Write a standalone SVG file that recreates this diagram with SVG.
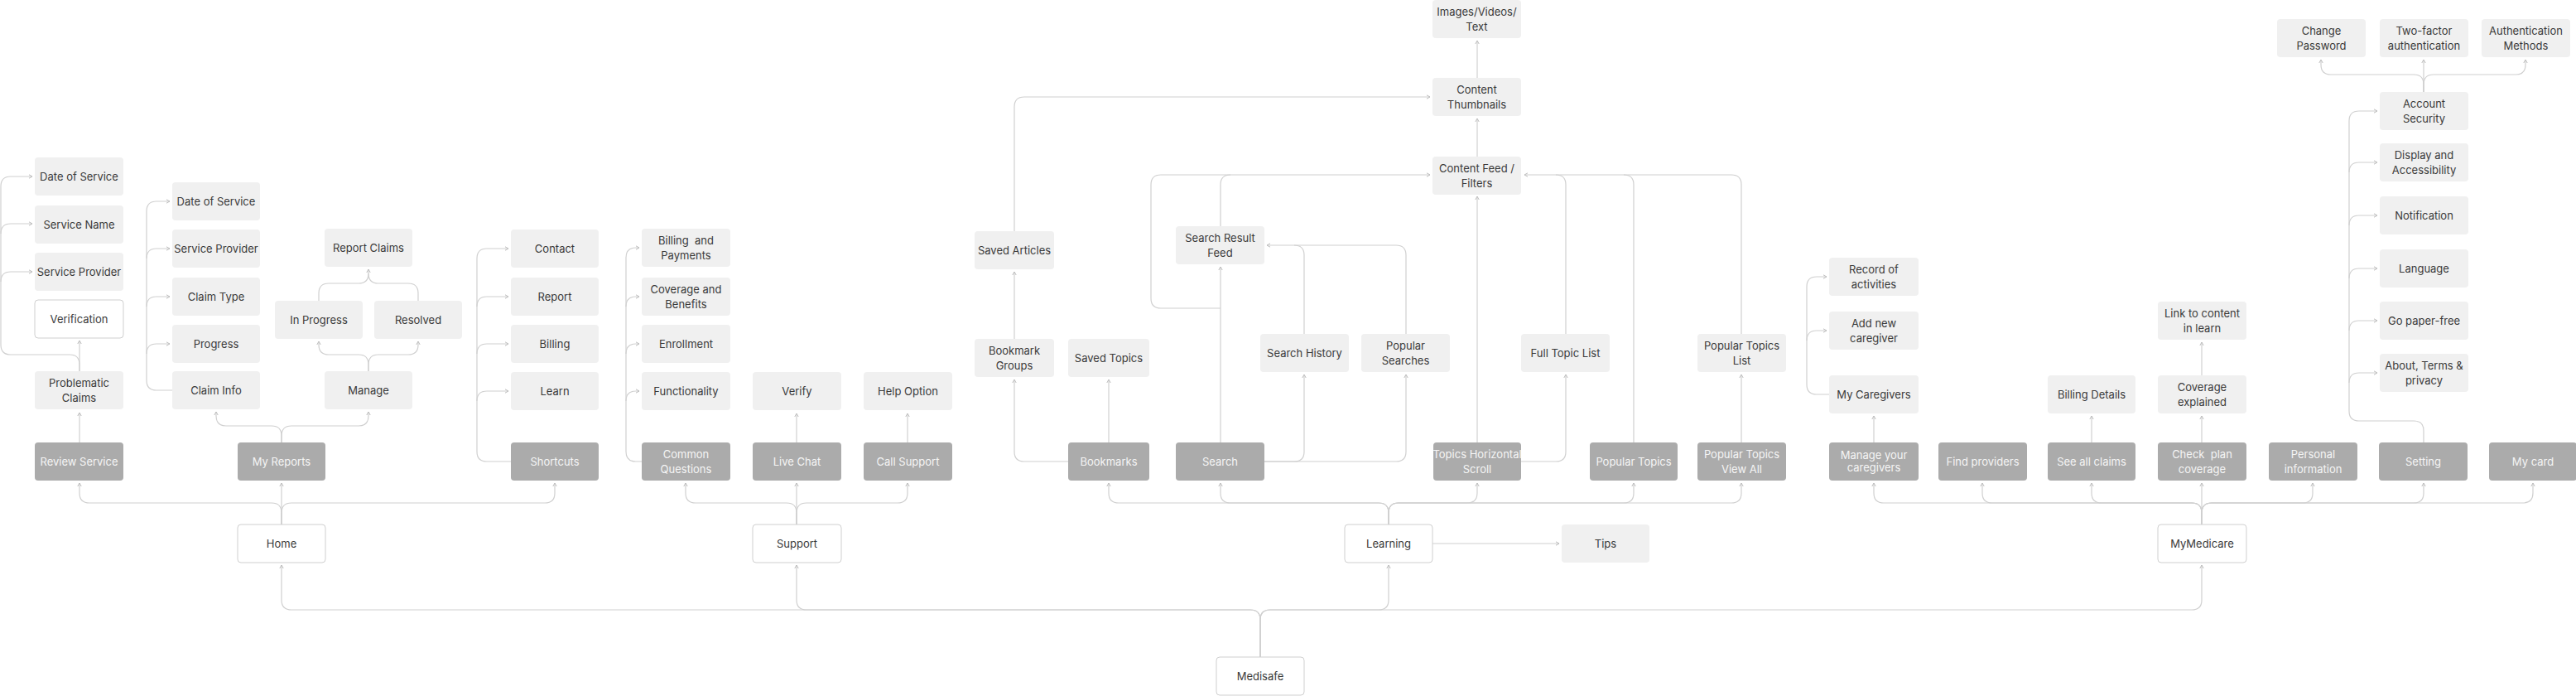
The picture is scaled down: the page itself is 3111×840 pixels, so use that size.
<svg xmlns="http://www.w3.org/2000/svg" width="3111" height="840" viewBox="0 0 3111 840">
<defs>
<style>
.l rect{fill:#f0f0f0}
.d rect{fill:#ababab}
.w rect{fill:#ffffff;stroke:#cfcfcf;stroke-width:1}
text{font-family:Inter,"Liberation Sans",sans-serif;font-size:13px;text-anchor:middle;dominant-baseline:central;fill:#3a3a3a}
.d text{fill:#f5f5f5}
.c path{fill:none;stroke:#d0d0d0;stroke-width:1.2}
.c path.a{marker-end:url(#ar)}
</style>
<marker id="ar" viewBox="0 0 6 6" refX="5" refY="3" markerWidth="6" markerHeight="6" markerUnits="userSpaceOnUse" orient="auto"><path d="M1,0.8 L5,3 L1,5.2" fill="none" stroke="#bdbdbd" stroke-width="1"/></marker>
</defs>
<rect width="3111" height="840" fill="#ffffff"/>

<g id="connectors" class="c">
<!-- Medisafe tree -->
<path class="a" d="M1522,793 L1522,748 Q1522,736 1510,736 L352,736 Q340,736 340,724 L340,682"/>
<path class="a" d="M1522,793 L1522,748 Q1522,736 1510,736 L974,736 Q962,736 962,724 L962,682"/>
<path class="a" d="M1522,793 L1522,748 Q1522,736 1534,736 L1665,736 Q1677,736 1677,724 L1677,682"/>
<path class="a" d="M1522,793 L1522,748 Q1522,736 1534,736 L2647,736 Q2659,736 2659,724 L2659,682"/>
<!-- Home tree -->
<path class="a" d="M340,633 L340,619 Q340,607 328,607 L108,607 Q96,607 96,595 L96,583"/>
<path class="a" d="M340,633 L340,583"/>
<path class="a" d="M340,633 L340,619 Q340,607 352,607 L658,607 Q670,607 670,595 L670,583"/>
<!-- Review / Problematic -->
<path class="a" d="M96,534 L96,498"/>
<path class="a" d="M96,448 L96,411"/>
<path class="a" d="M96,448 L96,440 Q96,428 84,428 L13,428 Q1,428 1,416 L1,225 Q1,213 13,213 L39,213"/>
<path class="a" d="M1,282 Q1,270 13,270 L39,270"/>
<path class="a" d="M1,340 Q1,328 13,328 L39,328"/>
<!-- My Reports tree -->
<path class="a" d="M340,534 L340,526 Q340,514 328,514 L273,514 Q261,514 261,502 L261,497"/>
<path class="a" d="M340,534 L340,526 Q340,514 352,514 L433,514 Q445,514 445,502 L445,497"/>
<path class="a" d="M208,471 L189,471 Q177,471 177,459 L177,255 Q177,243 189,243 L205,243"/>
<path class="a" d="M177,312 Q177,300 189,300 L205,300"/>
<path class="a" d="M177,370 Q177,358 189,358 L205,358"/>
<path class="a" d="M177,427 Q177,415 189,415 L205,415"/>
<path class="a" d="M445,448 L445,440 Q445,428 433,428 L397,428 Q385,428 385,416 L385,412"/>
<path class="a" d="M445,448 L445,440 Q445,428 457,428 L493,428 Q505,428 505,416 L505,412"/>
<path class="a" d="M385,363 L385,354 Q385,342 397,342 L433,342 Q445,342 445,330 L445,325"/>
<path d="M505,363 L505,354 Q505,342 493,342 L457,342 Q445,342 445,330"/>
<!-- Shortcuts -->
<path class="a" d="M617,557 L588,557 Q576,557 576,545 L576,312 Q576,300 588,300 L614,300"/>
<path class="a" d="M576,370 Q576,358 588,358 L614,358"/>
<path class="a" d="M576,427 Q576,415 588,415 L614,415"/>
<path class="a" d="M576,484 Q576,472 588,472 L614,472"/>
<!-- Common Questions -->
<path class="a" d="M775,557 L768,557 Q756,557 756,545 L756,311 Q756,299 768,299 L772,299"/>
<path class="a" d="M756,370 Q756,358 768,358 L772,358"/>
<path class="a" d="M756,427 Q756,415 768,415 L772,415"/>
<path class="a" d="M756,484 Q756,472 768,472 L772,472"/>
<!-- Support tree -->
<path class="a" d="M962,633 L962,619 Q962,607 950,607 L840,607 Q828,607 828,595 L828,583"/>
<path class="a" d="M962,633 L962,583"/>
<path class="a" d="M962,633 L962,619 Q962,607 974,607 L1084,607 Q1096,607 1096,595 L1096,583"/>
<path class="a" d="M962,534 L962,499"/>
<path class="a" d="M1096,534 L1096,499"/>
<!-- Learning tree -->
<path class="a" d="M1677,633 L1677,619 Q1677,607 1665,607 L1351,607 Q1339,607 1339,595 L1339,583"/>
<path class="a" d="M1677,633 L1677,619 Q1677,607 1665,607 L1486,607 Q1474,607 1474,595 L1474,583"/>
<path class="a" d="M1677,633 L1677,619 Q1677,607 1689,607 L1772,607 Q1784,607 1784,595 L1784,583"/>
<path class="a" d="M1677,633 L1677,619 Q1677,607 1689,607 L1961,607 Q1973,607 1973,595 L1973,583"/>
<path class="a" d="M1677,633 L1677,619 Q1677,607 1689,607 L2091,607 Q2103,607 2103,595 L2103,583"/>
<path class="a" d="M1730,656 L1883,656"/>
<path class="a" d="M1339,534 L1339,458"/>
<path class="a" d="M1290,557 L1237,557 Q1225,557 1225,545 L1225,458"/>
<path class="a" d="M1225,409 L1225,328"/>
<path class="a" d="M1225,279 L1225,129 Q1225,117 1237,117 L1727,117"/>
<path class="a" d="M1784,94 L1784,49"/>
<path class="a" d="M1784,189 L1784,143"/>
<path class="a" d="M1474,534 L1474,322"/>
<path d="M1474,372 L1402,372 Q1390,372 1390,360 L1390,223 Q1390,211 1402,211 L1486,211"/>
<path class="a" d="M1474,273 L1474,223 Q1474,211 1486,211 L1727,211"/>
<path class="a" d="M1527,557 L1563,557 Q1575,557 1575,545 L1575,452"/>
<path class="a" d="M1527,557 L1686,557 Q1698,557 1698,545 L1698,452"/>
<path class="a" d="M1575,403 L1575,308 Q1575,296 1563,296 L1530,296"/>
<path d="M1698,403 L1698,308 Q1698,296 1686,296 L1563,296"/>
<path class="a" d="M1784,534 L1784,237"/>
<path class="a" d="M1837,557 L1879,557 Q1891,557 1891,545 L1891,452"/>
<path class="a" d="M1891,403 L1891,223 Q1891,211 1879,211 L1841,211"/>
<path d="M1973,534 L1973,223 Q1973,211 1961,211 L1879,211"/>
<path d="M2103,403 L2103,223 Q2103,211 2091,211 L1961,211"/>
<path class="a" d="M2103,534 L2103,452"/>
<!-- MyMedicare tree -->
<path class="a" d="M2659,633 L2659,619 Q2659,607 2647,607 L2275,607 Q2263,607 2263,595 L2263,583"/>
<path class="a" d="M2659,633 L2659,619 Q2659,607 2647,607 L2406,607 Q2394,607 2394,595 L2394,583"/>
<path class="a" d="M2659,633 L2659,619 Q2659,607 2647,607 L2538,607 Q2526,607 2526,595 L2526,583"/>
<path class="a" d="M2659,633 L2659,583"/>
<path class="a" d="M2659,633 L2659,619 Q2659,607 2671,607 L2781,607 Q2793,607 2793,595 L2793,583"/>
<path class="a" d="M2659,633 L2659,619 Q2659,607 2671,607 L2915,607 Q2927,607 2927,595 L2927,583"/>
<path class="a" d="M2659,633 L2659,619 Q2659,607 2671,607 L3047,607 Q3059,607 3059,595 L3059,583"/>
<path class="a" d="M2263,534 L2263,502"/>
<path class="a" d="M2209,476 L2194,476 Q2182,476 2182,464 L2182,346 Q2182,334 2194,334 L2206,334"/>
<path class="a" d="M2182,411 Q2182,399 2194,399 L2206,399"/>
<path class="a" d="M2526,534 L2526,502"/>
<path class="a" d="M2659,534 L2659,502"/>
<path class="a" d="M2659,453 L2659,413"/>
<!-- Settings -->
<path class="a" d="M2927,534 L2927,520 Q2927,508 2915,508 L2849,508 Q2837,508 2837,496 L2837,146 Q2837,134 2849,134 L2871,134"/>
<path class="a" d="M2837,208 Q2837,196 2849,196 L2871,196"/>
<path class="a" d="M2837,272 Q2837,260 2849,260 L2871,260"/>
<path class="a" d="M2837,336 Q2837,324 2849,324 L2871,324"/>
<path class="a" d="M2837,399 Q2837,387 2849,387 L2871,387"/>
<path class="a" d="M2837,462 Q2837,450 2849,450 L2871,450"/>
<path class="a" d="M2927,111 L2927,102 Q2927,90 2915,90 L2815,90 Q2803,90 2803,78 L2803,72"/>
<path class="a" d="M2927,111 L2927,72"/>
<path class="a" d="M2927,111 L2927,102 Q2927,90 2939,90 L3038,90 Q3050,90 3050,78 L3050,72"/>
</g>

<!-- Home branch -->
<g id="n-dos1" class="l"><rect x="42" y="190" width="107" height="46" rx="4"/><text x="95.5" y="213">Date of Service</text></g>
<g id="n-sname" class="l"><rect x="42" y="248" width="107" height="46" rx="4"/><text x="95.5" y="271">Service Name</text></g>
<g id="n-sprov1" class="l"><rect x="42" y="305" width="107" height="46" rx="4"/><text x="95.5" y="328">Service Provider</text></g>
<g id="n-verif" class="w"><rect x="42" y="362" width="107" height="46" rx="4"/><text x="95.5" y="385">Verification</text></g>
<g id="n-probl" class="l"><rect x="42" y="448" width="107" height="46" rx="4"/><text x="95.5" y="462">Problematic</text><text x="95.5" y="480">Claims</text></g>
<g id="n-review" class="d"><rect x="42" y="534" width="107" height="46" rx="4"/><text x="95.5" y="557">Review Service</text></g>

<g id="n-dos2" class="l"><rect x="208" y="220" width="106" height="46" rx="4"/><text x="261" y="243">Date of Service</text></g>
<g id="n-sprov2" class="l"><rect x="208" y="277" width="106" height="46" rx="4"/><text x="261" y="300">Service Provider</text></g>
<g id="n-ctype" class="l"><rect x="208" y="335" width="106" height="46" rx="4"/><text x="261" y="358">Claim Type</text></g>
<g id="n-progress" class="l"><rect x="208" y="392" width="106" height="46" rx="4"/><text x="261" y="415">Progress</text></g>
<g id="n-cinfo" class="l"><rect x="208" y="448" width="106" height="46" rx="4"/><text x="261" y="471">Claim Info</text></g>
<g id="n-myreports" class="d"><rect x="287" y="534" width="106" height="46" rx="4"/><text x="340" y="557">My Reports</text></g>
<g id="n-reportclaims" class="l"><rect x="392" y="276" width="106" height="46" rx="4"/><text x="445" y="299">Report Claims</text></g>
<g id="n-inprogress" class="l"><rect x="332" y="363" width="106" height="46" rx="4"/><text x="385" y="386">In Progress</text></g>
<g id="n-resolved" class="l"><rect x="452" y="363" width="106" height="46" rx="4"/><text x="505" y="386">Resolved</text></g>
<g id="n-manage" class="l"><rect x="392" y="448" width="106" height="46" rx="4"/><text x="445" y="471">Manage</text></g>
<g id="n-home" class="w"><rect x="287" y="633" width="106" height="46" rx="4"/><text x="340" y="656">Home</text></g>

<g id="n-contact" class="l"><rect x="617" y="277" width="106" height="46" rx="4"/><text x="670" y="300">Contact</text></g>
<g id="n-report" class="l"><rect x="617" y="335" width="106" height="46" rx="4"/><text x="670" y="358">Report</text></g>
<g id="n-billing" class="l"><rect x="617" y="392" width="106" height="46" rx="4"/><text x="670" y="415">Billing</text></g>
<g id="n-learn" class="l"><rect x="617" y="449" width="106" height="46" rx="4"/><text x="670" y="472">Learn</text></g>
<g id="n-shortcuts" class="d"><rect x="617" y="534" width="106" height="46" rx="4"/><text x="670" y="557">Shortcuts</text></g>

<!-- Support branch -->
<g id="n-billpay" class="l"><rect x="775" y="276" width="107" height="46" rx="4"/><text x="828.5" y="290">Billing&#160; and</text><text x="828.5" y="308">Payments</text></g>
<g id="n-covben" class="l"><rect x="775" y="335" width="107" height="46" rx="4"/><text x="828.5" y="349">Coverage and</text><text x="828.5" y="367">Benefits</text></g>
<g id="n-enroll" class="l"><rect x="775" y="392" width="107" height="46" rx="4"/><text x="828.5" y="415">Enrollment</text></g>
<g id="n-func" class="l"><rect x="775" y="449" width="107" height="46" rx="4"/><text x="828.5" y="472">Functionality</text></g>
<g id="n-cq" class="d"><rect x="775" y="534" width="107" height="46" rx="4"/><text x="828.5" y="548">Common</text><text x="828.5" y="566">Questions</text></g>
<g id="n-verify" class="l"><rect x="909" y="449" width="107" height="46" rx="4"/><text x="962.5" y="472">Verify</text></g>
<g id="n-livechat" class="d"><rect x="909" y="534" width="107" height="46" rx="4"/><text x="962.5" y="557">Live Chat</text></g>
<g id="n-help" class="l"><rect x="1043" y="449" width="107" height="46" rx="4"/><text x="1096.5" y="472">Help Option</text></g>
<g id="n-callsupport" class="d"><rect x="1043" y="534" width="107" height="46" rx="4"/><text x="1096.5" y="557">Call Support</text></g>
<g id="n-support" class="w"><rect x="909" y="633" width="107" height="46" rx="4"/><text x="962.5" y="656">Support</text></g>

<!-- Learning branch -->
<g id="n-images" class="l"><rect x="1730" y="0" width="107" height="46" rx="4"/><text x="1783.5" y="14">Images/Videos/</text><text x="1783.5" y="32">Text</text></g>
<g id="n-thumbs" class="l"><rect x="1730" y="94" width="107" height="46" rx="4"/><text x="1783.5" y="108">Content</text><text x="1783.5" y="126">Thumbnails</text></g>
<g id="n-feed" class="l"><rect x="1730" y="189" width="107" height="46" rx="4"/><text x="1783.5" y="203">Content Feed /</text><text x="1783.5" y="221">Filters</text></g>
<g id="n-savedarticles" class="l"><rect x="1177" y="279" width="96" height="46" rx="4"/><text x="1225" y="302">Saved Articles</text></g>
<g id="n-srf" class="l"><rect x="1420" y="273" width="107" height="46" rx="4"/><text x="1473.5" y="287">Search Result</text><text x="1473.5" y="305">Feed</text></g>
<g id="n-bgroups" class="l"><rect x="1177" y="409" width="96" height="46" rx="4"/><text x="1225" y="423">Bookmark</text><text x="1225" y="441">Groups</text></g>
<g id="n-savedtopics" class="l"><rect x="1290" y="409" width="98" height="46" rx="4"/><text x="1339" y="432">Saved Topics</text></g>
<g id="n-shistory" class="l"><rect x="1522" y="403" width="107" height="46" rx="4"/><text x="1575.5" y="426">Search History</text></g>
<g id="n-popsearch" class="l"><rect x="1644" y="403" width="107" height="46" rx="4"/><text x="1697.5" y="417">Popular</text><text x="1697.5" y="435">Searches</text></g>
<g id="n-fulltopic" class="l"><rect x="1837" y="403" width="107" height="46" rx="4"/><text x="1890.5" y="426">Full Topic List</text></g>
<g id="n-poptopiclist" class="l"><rect x="2050" y="403" width="107" height="46" rx="4"/><text x="2103.5" y="417">Popular Topics</text><text x="2103.5" y="435">List</text></g>
<g id="n-bookmarks" class="d"><rect x="1290" y="534" width="98" height="46" rx="4"/><text x="1339" y="557">Bookmarks</text></g>
<g id="n-search" class="d"><rect x="1420" y="534" width="107" height="46" rx="4"/><text x="1473.5" y="557">Search</text></g>
<g id="n-ths" class="d"><rect x="1731" y="534" width="106" height="46" rx="4"/><text x="1784" y="548">Topics Horizontal</text><text x="1784" y="566">Scroll</text></g>
<g id="n-poptopics" class="d"><rect x="1920" y="534" width="106" height="46" rx="4"/><text x="1973" y="557">Popular Topics</text></g>
<g id="n-ptva" class="d"><rect x="2050" y="534" width="107" height="46" rx="4"/><text x="2103.5" y="548">Popular Topics</text><text x="2103.5" y="566">View All</text></g>
<g id="n-learning" class="w"><rect x="1624" y="633" width="106" height="46" rx="4"/><text x="1677" y="656">Learning</text></g>
<g id="n-tips" class="l"><rect x="1886" y="633" width="106" height="46" rx="4"/><text x="1939" y="656">Tips</text></g>
<g id="n-medisafe" class="w"><rect x="1469" y="793" width="106" height="46" rx="4"/><text x="1522" y="816">Medisafe</text></g>

<!-- MyMedicare branch -->
<g id="n-record" class="l"><rect x="2209" y="311" width="108" height="46" rx="4"/><text x="2263" y="325">Record of</text><text x="2263" y="343">activities</text></g>
<g id="n-addcg" class="l"><rect x="2209" y="376" width="108" height="46" rx="4"/><text x="2263" y="390">Add new</text><text x="2263" y="408">caregiver</text></g>
<g id="n-mycg" class="l"><rect x="2209" y="453" width="108" height="46" rx="4"/><text x="2263" y="476">My Caregivers</text></g>
<g id="n-billdet" class="l"><rect x="2473" y="453" width="106" height="46" rx="4"/><text x="2526" y="476">Billing Details</text></g>
<g id="n-linklearn" class="l"><rect x="2606" y="364" width="107" height="46" rx="4"/><text x="2659.5" y="378">Link to content</text><text x="2659.5" y="396">in learn</text></g>
<g id="n-covexp" class="l"><rect x="2606" y="453" width="107" height="46" rx="4"/><text x="2659.5" y="467">Coverage</text><text x="2659.5" y="485">explained</text></g>
<g id="n-managecg" class="d"><rect x="2209" y="534" width="108" height="46" rx="4"/><text x="2263" y="549">Manage your</text><text x="2263" y="564">caregivers</text></g>
<g id="n-findprov" class="d"><rect x="2341" y="534" width="107" height="46" rx="4"/><text x="2394.5" y="557">Find providers</text></g>
<g id="n-seeclaims" class="d"><rect x="2473" y="534" width="106" height="46" rx="4"/><text x="2526" y="557">See all claims</text></g>
<g id="n-checkplan" class="d"><rect x="2606" y="534" width="107" height="46" rx="4"/><text x="2659.5" y="548">Check&#160; plan</text><text x="2659.5" y="566">coverage</text></g>
<g id="n-personal" class="d"><rect x="2740" y="534" width="107" height="46" rx="4"/><text x="2793.5" y="548">Personal</text><text x="2793.5" y="566">information</text></g>
<g id="n-setting" class="d"><rect x="2873" y="534" width="107" height="46" rx="4"/><text x="2926.5" y="557">Setting</text></g>
<g id="n-mycard" class="d"><rect x="3006" y="534" width="106" height="46" rx="4"/><text x="3059" y="557">My card</text></g>
<g id="n-mymedicare" class="w"><rect x="2606" y="633" width="107" height="46" rx="4"/><text x="2659.5" y="656">MyMedicare</text></g>

<g id="n-changepw" class="l"><rect x="2750" y="23" width="107" height="46" rx="4"/><text x="2803.5" y="37">Change</text><text x="2803.5" y="55">Password</text></g>
<g id="n-twofactor" class="l"><rect x="2874" y="23" width="107" height="46" rx="4"/><text x="2927.5" y="37">Two-factor</text><text x="2927.5" y="55">authentication</text></g>
<g id="n-authmethods" class="l"><rect x="2997" y="23" width="107" height="46" rx="4"/><text x="3050.5" y="37">Authentication</text><text x="3050.5" y="55">Methods</text></g>
<g id="n-accsec" class="l"><rect x="2874" y="111" width="107" height="46" rx="4"/><text x="2927.5" y="125">Account</text><text x="2927.5" y="143">Security</text></g>
<g id="n-display" class="l"><rect x="2874" y="173" width="107" height="46" rx="4"/><text x="2927.5" y="187">Display and</text><text x="2927.5" y="205">Accessibility</text></g>
<g id="n-notif" class="l"><rect x="2874" y="237" width="107" height="46" rx="4"/><text x="2927.5" y="260">Notification</text></g>
<g id="n-lang" class="l"><rect x="2874" y="301" width="107" height="46" rx="4"/><text x="2927.5" y="324">Language</text></g>
<g id="n-paper" class="l"><rect x="2874" y="364" width="107" height="46" rx="4"/><text x="2927.5" y="387">Go paper-free</text></g>
<g id="n-about" class="l"><rect x="2874" y="427" width="107" height="46" rx="4"/><text x="2927.5" y="441">About, Terms &amp;</text><text x="2927.5" y="459">privacy</text></g>
</svg>
